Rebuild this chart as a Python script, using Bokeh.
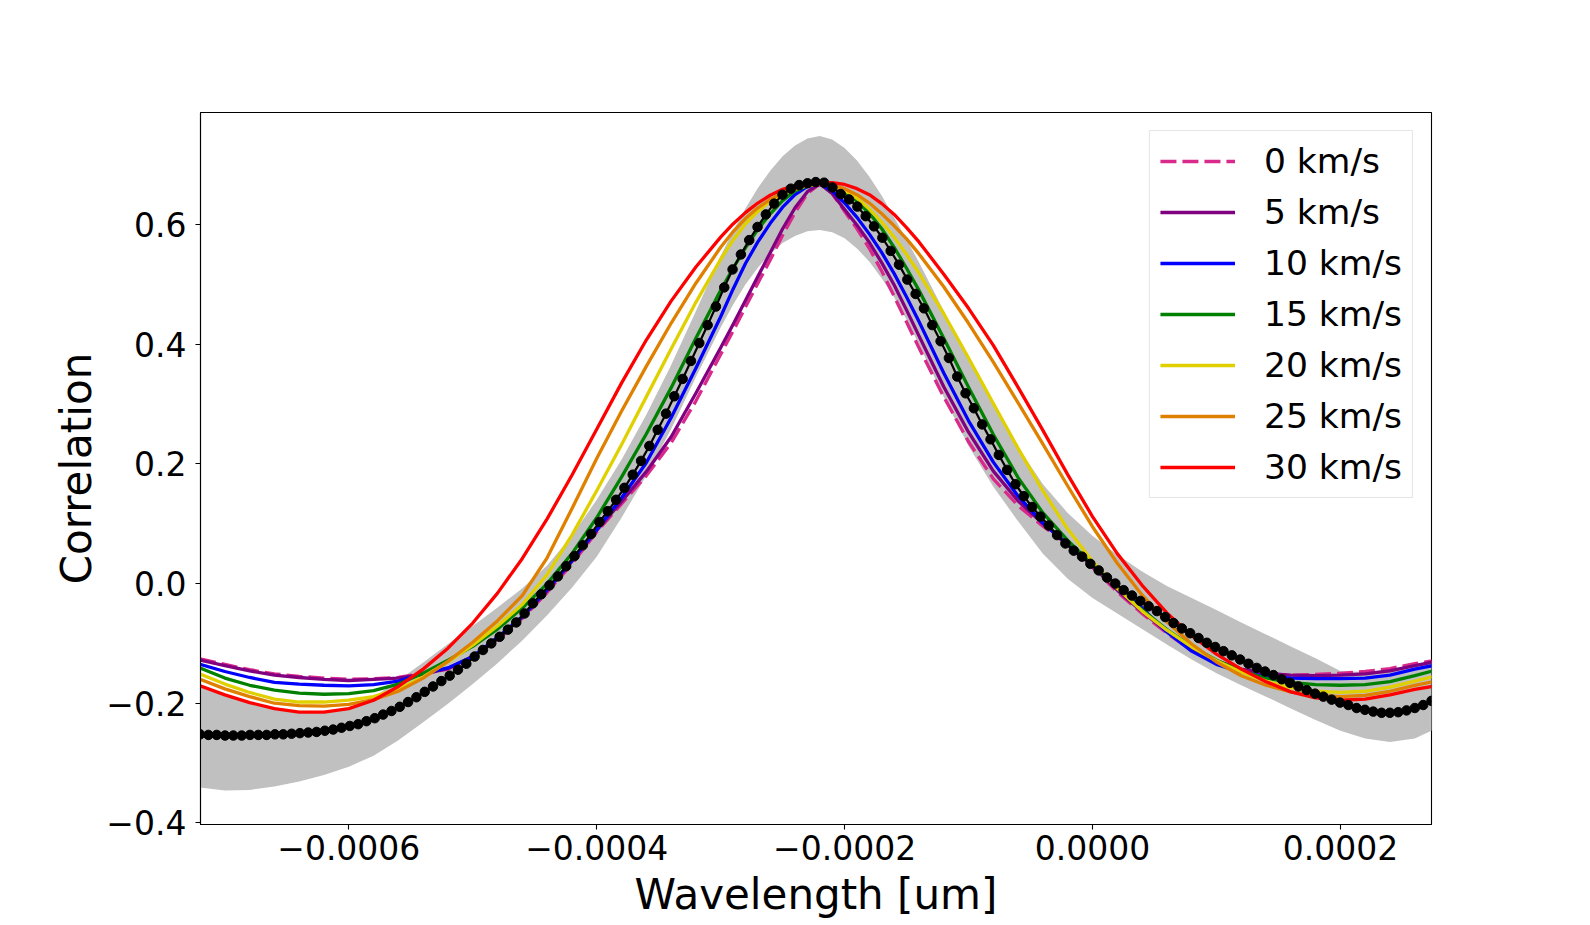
import numpy as np
from bokeh.plotting import figure
from bokeh.models import Range1d, FixedTicker, CustomJSTickFormatter
from bokeh.embed import file_html
from bokeh.resources import INLINE

# ---------------- data ----------------
# wavelengths at which the model curves / band were read off (um)
model_wavelength = [
    -0.00072, -0.00070, -0.00068, -0.00066, -0.00064, -0.00062, -0.00060, -0.00058, -0.00056, -0.00054,
    -0.00052, -0.00050, -0.00048, -0.00046, -0.00044, -0.00042, -0.00040, -0.00038, -0.00036, -0.00034,
    -0.00032, -0.00030,
    -0.00029, -0.00028, -0.00027, -0.00026, -0.00025, -0.00024, -0.00023, -0.00022,
    -0.00021, -0.00020, -0.00019, -0.00018, -0.00017, -0.00016, -0.00015, -0.00014,
    -0.00012, -0.00010, -0.00008, -0.00006, -0.00004, -0.00002, 0.0, 0.00002, 0.00004, 0.00006,
    0.00008, 0.00010, 0.00012, 0.00014, 0.00016, 0.00018, 0.00020, 0.00022, 0.00024, 0.00026, 0.00028]

# observed cross-correlation points (evenly spaced samples across the window)
obs_wavelength = np.linspace(-0.00072, 0.0002735, 149)

speed_labels = ["0 km/s", "5 km/s", "10 km/s", "15 km/s", "20 km/s", "25 km/s", "30 km/s"]

corr_0 = [-0.126, -0.135, -0.144, -0.151, -0.155, -0.158, -0.160, -0.159, -0.157, -0.150,
          -0.143, -0.123, -0.094, -0.058, -0.015, 0.033, 0.086, 0.133, 0.180, 0.235,
          0.305, 0.383,
          0.422, 0.462, 0.502, 0.541, 0.582, 0.620, 0.652, 0.668,
          0.652, 0.622, 0.593, 0.560, 0.522, 0.480, 0.437, 0.394,
          0.312, 0.237, 0.175, 0.130, 0.096, 0.065, 0.027, -0.014, -0.050, -0.083,
          -0.112, -0.134, -0.146, -0.151, -0.153, -0.152, -0.150, -0.147, -0.142, -0.134, -0.127]
corr_5 = [-0.128, -0.137, -0.146, -0.153, -0.157, -0.160, -0.162, -0.160, -0.158, -0.152,
          -0.142, -0.122, -0.093, -0.056, -0.012, 0.037, 0.089, 0.137, 0.187, 0.245,
          0.318, 0.394,
          0.433, 0.473, 0.513, 0.553, 0.593, 0.628, 0.655, 0.668,
          0.652, 0.625, 0.599, 0.570, 0.536, 0.499, 0.457, 0.414,
          0.329, 0.253, 0.188, 0.138, 0.100, 0.067, 0.029, -0.011, -0.047, -0.080,
          -0.108, -0.129, -0.143, -0.150, -0.153, -0.154, -0.153, -0.151, -0.146, -0.137, -0.129]
corr_10 = [-0.135, -0.147, -0.157, -0.165, -0.168, -0.170, -0.171, -0.169, -0.163, -0.150,
           -0.141, -0.122, -0.090, -0.055, -0.010, 0.038, 0.090, 0.143, 0.202, 0.277,
           0.360, 0.446,
           0.492, 0.535, 0.571, 0.602, 0.629, 0.650, 0.664, 0.668,
           0.656, 0.636, 0.612, 0.584, 0.553, 0.518, 0.479, 0.438,
           0.352, 0.272, 0.203, 0.146, 0.101, 0.065, 0.032, -0.003, -0.041, -0.081,
           -0.113, -0.135, -0.148, -0.155, -0.158, -0.159, -0.159, -0.158, -0.153, -0.143, -0.135]
corr_15 = [-0.141, -0.158, -0.170, -0.178, -0.183, -0.185, -0.184, -0.179, -0.168, -0.150,
           -0.128, -0.105, -0.076, -0.041, 0.000, 0.050, 0.110, 0.178, 0.250, 0.327,
           0.410, 0.490,
           0.527, 0.561, 0.592, 0.618, 0.640, 0.656, 0.665, 0.668,
           0.664, 0.654, 0.639, 0.619, 0.593, 0.562, 0.527, 0.490,
           0.410, 0.328, 0.249, 0.177, 0.118, 0.072, 0.032, -0.007, -0.044, -0.077,
           -0.105, -0.128, -0.146, -0.158, -0.165, -0.169, -0.170, -0.169, -0.164, -0.154, -0.143]
corr_20 = [-0.151, -0.168, -0.182, -0.193, -0.198, -0.198, -0.195, -0.189, -0.176, -0.156,
           -0.131, -0.103, -0.071, -0.035, 0.015, 0.081, 0.155, 0.232, 0.312, 0.392,
           0.470, 0.542,
           0.574, 0.601, 0.622, 0.639, 0.651, 0.659, 0.665, 0.668,
           0.665, 0.657, 0.644, 0.626, 0.604, 0.579, 0.550, 0.519,
           0.451, 0.377, 0.301, 0.226, 0.155, 0.091, 0.037, -0.008, -0.046, -0.078,
           -0.106, -0.129, -0.148, -0.163, -0.174, -0.180, -0.182, -0.180, -0.173, -0.163, -0.153]
corr_25 = [-0.160, -0.176, -0.189, -0.200, -0.204, -0.205, -0.202, -0.194, -0.180, -0.158,
           -0.130, -0.098, -0.062, -0.020, 0.043, 0.125, 0.209, 0.288, 0.363, 0.435,
           0.502, 0.562,
           0.588, 0.610, 0.628, 0.642, 0.653, 0.660, 0.666, 0.668,
           0.666, 0.660, 0.650, 0.636, 0.618, 0.598, 0.576, 0.551,
           0.496, 0.435, 0.370, 0.302, 0.233, 0.163, 0.095, 0.034, -0.019, -0.064,
           -0.101, -0.131, -0.154, -0.170, -0.181, -0.187, -0.189, -0.187, -0.180, -0.170, -0.162]
corr_30 = [-0.171, -0.186, -0.199, -0.209, -0.215, -0.215, -0.209, -0.195, -0.172, -0.143,
           -0.108, -0.066, -0.016, 0.042, 0.108, 0.181, 0.258, 0.335, 0.407, 0.472,
           0.529, 0.579,
           0.601, 0.620, 0.636, 0.649, 0.659, 0.665, 0.669, 0.670,
           0.670, 0.667, 0.660, 0.650, 0.635, 0.617, 0.595, 0.571,
           0.517, 0.460, 0.398, 0.328, 0.256, 0.182, 0.112, 0.050, -0.003, -0.049,
           -0.087, -0.118, -0.143, -0.164, -0.181, -0.191, -0.195, -0.193, -0.186, -0.177, -0.170]

band_upper = [-0.172, -0.187, -0.199, -0.209, -0.214, -0.213, -0.208, -0.190, -0.162, -0.132,
              -0.101, -0.071, -0.040, -0.008, 0.030, 0.080, 0.140, 0.207, 0.282, 0.365,
              0.455, 0.548,
              0.589, 0.627, 0.661, 0.690, 0.714, 0.732, 0.744, 0.748,
              0.742, 0.728, 0.707, 0.680, 0.648, 0.612, 0.575, 0.537,
              0.456, 0.375, 0.298, 0.228, 0.166, 0.118, 0.080, 0.048, 0.020, -0.004,
              -0.024, -0.044, -0.065, -0.085, -0.105, -0.125, -0.146, -0.148, -0.143, -0.135, -0.128]
band_lower = [-0.341, -0.346, -0.345, -0.339, -0.331, -0.320, -0.306, -0.288, -0.262, -0.232,
              -0.201, -0.168, -0.133, -0.095, -0.053, -0.007, 0.045, 0.110, 0.180, 0.258,
              0.345, 0.428,
              0.466, 0.500, 0.528, 0.551, 0.569, 0.581, 0.589, 0.591,
              0.587, 0.577, 0.560, 0.538, 0.510, 0.478, 0.441, 0.400,
              0.312, 0.230, 0.162, 0.104, 0.050, 0.008, -0.024, -0.050, -0.076, -0.102,
              -0.127, -0.150, -0.170, -0.189, -0.209, -0.228, -0.246, -0.259, -0.265, -0.259, -0.240]

obs_corr = [-0.252, -0.253, -0.253, -0.254, -0.254, -0.254, -0.253, -0.253, -0.253, -0.252,
            -0.252, -0.251, -0.250, -0.249, -0.248, -0.246, -0.244, -0.241, -0.238, -0.235,
            -0.230, -0.225, -0.219, -0.213, -0.206, -0.198, -0.190, -0.181, -0.172, -0.163,
            -0.154, -0.144, -0.134, -0.122, -0.111, -0.100, -0.089, -0.077, -0.065, -0.050,
            -0.033, -0.018, -0.003, 0.012, 0.029, 0.046, 0.064, 0.083, 0.103, 0.121,
            0.140, 0.160, 0.182, 0.205, 0.230, 0.257, 0.284, 0.313, 0.342, 0.372,
            0.402, 0.432, 0.463, 0.495, 0.525, 0.550, 0.574, 0.596, 0.617, 0.635,
            0.650, 0.660, 0.666, 0.669, 0.671, 0.670, 0.662, 0.651, 0.642, 0.630,
            0.614, 0.597, 0.578, 0.556, 0.533, 0.508, 0.484, 0.460, 0.432, 0.405,
            0.377, 0.346, 0.318, 0.293, 0.266, 0.241, 0.215, 0.190, 0.166, 0.146,
            0.128, 0.112, 0.097, 0.081, 0.067, 0.055, 0.045, 0.033, 0.022, 0.010,
            0.000, -0.011, -0.020, -0.029, -0.038, -0.046, -0.056, -0.066, -0.075, -0.083,
            -0.091, -0.099, -0.106, -0.113, -0.120, -0.127, -0.134, -0.141, -0.147, -0.153,
            -0.160, -0.166, -0.172, -0.178, -0.184, -0.189, -0.194, -0.199, -0.203, -0.208,
            -0.211, -0.214, -0.216, -0.216, -0.215, -0.212, -0.208, -0.203, -0.196]

x_ticks = [-0.0006, -0.0004, -0.0002, 0.0, 0.0002]
y_ticks = [-0.4, -0.2, 0.0, 0.2, 0.4, 0.6]

# ---------------- styles ----------------
curves = [corr_0, corr_5, corr_10, corr_15, corr_20, corr_25, corr_30]
colors = ["#d92a8c", "#800080", "#0000ff", "#008000", "#e0d000", "#e08000", "#ff0000"]
dashes = ["16 6", "solid", "solid", "solid", "solid", "solid", "solid"]
FONT = "DejaVu Sans"

p = figure(frame_width=1231, frame_height=712,
           x_range=Range1d(-0.00071965, 0.0002735),
           y_range=Range1d(-0.4027, 0.7873),
           output_backend="svg", toolbar_location=None,
           min_border_left=200, min_border_top=112,
           min_border_right=150, min_border_bottom=90)

p.varea(x=model_wavelength, y1=band_lower, y2=band_upper, fill_color="#c0c0c0", fill_alpha=1.0)

for ys, col, dash, lab in zip(curves, colors, dashes, speed_labels):
    p.line(model_wavelength, ys, line_color=col, line_width=3.3, line_dash=dash,
           line_join="round", legend_label=lab)

p.line(obs_wavelength, obs_corr, line_color="black", line_width=2.2)
p.scatter(obs_wavelength, obs_corr, size=9.5, fill_color="black", line_color="black")

# axes
p.xgrid.visible = False
p.ygrid.visible = False
p.outline_line_color = "black"
p.outline_line_width = 1.1
p.outline_line_alpha = 1.0

p.xaxis.ticker = FixedTicker(ticks=x_ticks)
p.yaxis.ticker = FixedTicker(ticks=y_ticks)
p.xaxis.formatter = CustomJSTickFormatter(code="return tick.toFixed(4).replace('-', '\\u2212');")
p.yaxis.formatter = CustomJSTickFormatter(code="return tick.toFixed(1).replace('-', '\\u2212');")

for ax in (p.xaxis[0], p.yaxis[0]):
    ax.axis_line_color = "black"
    ax.axis_line_width = 1.1
    ax.major_tick_line_color = "black"
    ax.major_tick_line_width = 1.1
    ax.major_tick_out = 5
    ax.major_tick_in = 0
    ax.minor_tick_line_color = None
    ax.major_label_text_font = FONT
    ax.major_label_text_font_size = "33px"
    ax.major_label_text_color = "black"
    ax.axis_label_text_font = FONT
    ax.axis_label_text_font_size = "42px"
    ax.axis_label_text_font_style = "normal"
    ax.axis_label_text_color = "black"

p.xaxis.axis_label = "Wavelength [um]"
p.yaxis.axis_label = "Correlation"
p.xaxis.major_label_standoff = 5
p.yaxis.major_label_standoff = 9
p.xaxis.axis_label_standoff = 7
p.yaxis.axis_label_standoff = 2

# legend
lg = p.legend[0]
lg.location = "top_right"
lg.margin = 18
lg.padding = 10
lg.spacing = 11
lg.glyph_width = 75
lg.glyph_height = 38
lg.label_height = 38
lg.label_standoff = 29
lg.label_text_font = FONT
lg.label_text_font_size = "34.5px"
lg.label_text_color = "black"
lg.border_line_color = "#cccccc"
lg.border_line_width = 1.2
lg.background_fill_color = "white"
lg.background_fill_alpha = 0.8

open("out.html", "w").write(file_html(p, INLINE))
